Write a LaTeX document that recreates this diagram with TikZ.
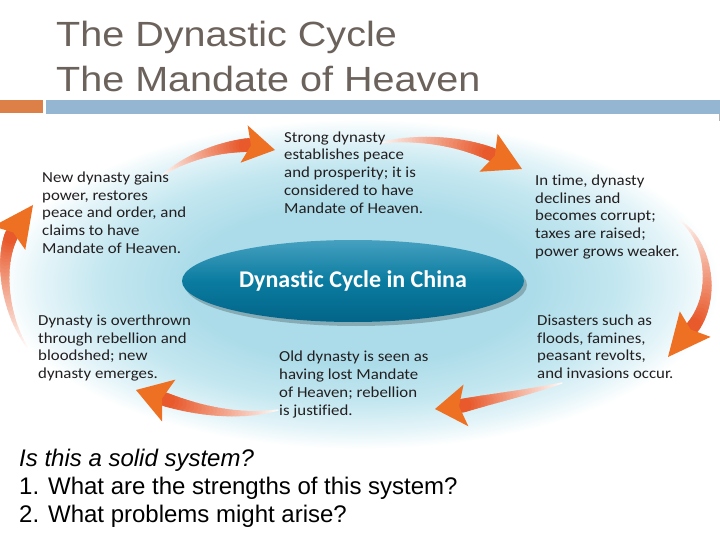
\documentclass[tikz,border=0pt]{standalone}
\usepackage{fontspec}
\setmainfont{Liberation Sans}
\newfontfamily\titlefont[FakeStretch=1.13]{Liberation Sans}
\newfontfamily\bodyfont[FakeStretch=1.1,Ligatures=NoCommon]{Carlito}
\newfontfamily\ovalfont[Ligatures=NoCommon]{Carlito}
\usetikzlibrary{calc,shapes.geometric}
\definecolor{titlegray}{RGB}{108,98,92}
\definecolor{barorange}{RGB}{221,128,71}
\definecolor{barblue}{RGB}{148,182,210}
\definecolor{glowc}{RGB}{172,220,233}
\definecolor{glowd}{RGB}{196,231,240}
\definecolor{glowe}{RGB}{230,245,249}
\definecolor{ovalmid}{RGB}{10,124,160}
\definecolor{ovaltop}{RGB}{70,160,192}
\definecolor{ovalbot}{RGB}{2,100,136}
\definecolor{arrowred}{RGB}{232,88,42}
\definecolor{arrowhd}{RGB}{238,112,34}
\definecolor{bodytext}{RGB}{35,31,32}
\pgfdeclareradialshading{glowshade}{\pgfpoint{0bp}{0bp}}{color(0bp)=(glowc); color(12bp)=(glowc); color(18bp)=(glowd); color(22.5bp)=(glowe); color(25bp)=(white); color(50bp)=(white)}

% #1 name prefix, #2 tail, #3 control 1, #4 control 2, #5 head base, #6 tip, #7 head half-width
\newcommand{\cyclearrow}[7]{%
  \path (#2) .. controls (#3) and (#4) .. (#5)
    \foreach \k in {0,...,30}{ coordinate[pos=\k/30] (#1-\k) };
  \foreach \k [evaluate=\k as \nk using int(\k+1),
               evaluate=\k as \w using 1.5+\k*0.42,
               evaluate=\k as \c using 4+\k*3.3] in {0,...,29}
    \draw[line width=\w pt, line cap=round, draw=arrowred!\c!white] (#1-\k) -- (#1-\nk);
  \coordinate (#1-back) at ($(#5)!-5pt!(#6)$);
  \coordinate (#1-notch) at ($(#5)!2pt!(#6)$);
  \fill[arrowhd] ($(#1-back)!#7!90:(#6)$) -- (#6) -- ($(#1-back)!#7!-90:(#6)$) -- (#1-notch) -- cycle;
}

\begin{document}
\begin{tikzpicture}[x=1pt,y=-1pt,
  txt/.style={font=\bodyfont\fontsize{15.3}{17.8}\selectfont, text=bodytext,
              align=left, anchor=north west, inner sep=0pt}]
\useasboundingbox (0,0) rectangle (720,540);
\fill[white] (0,0) rectangle (720,540);

% soft glow behind the cycle
\shade[shading=glowshade] (360,284) ellipse [x radius=360, y radius=165];

% header bars
\fill[barorange] (0,100) rectangle (43,113);
\fill[barblue] (46,100) rectangle (720,114);
\fill[gray!60] (718.5,114) rectangle (720,121);

% title
\node[anchor=north west, inner sep=0pt, align=left, text=titlegray,
      font=\titlefont\fontsize{35}{45}\selectfont] (title) at (56,16.7)
  {\rule{0pt}{30pt}The Dynastic Cycle\\The Mandate of Heaven};

% arrow key points
\coordinate (a1t) at (163,175); \coordinate (a1b) at (249,145); \coordinate (a1h) at (275,150);
\coordinate (a2t) at (380,143); \coordinate (a2b) at (493,155); \coordinate (a2h) at (522,169);
\coordinate (a3t) at (680,221); \coordinate (a3b) at (692,328); \coordinate (a3h) at (668,357);
\coordinate (a4t) at (562,383); \coordinate (a4b) at (461,406); \coordinate (a4h) at (435,409);
\coordinate (a5t) at (278,410); \coordinate (a5b) at (164,399); \coordinate (a5h) at (136,390);
\coordinate (a6t) at (27,347);  \coordinate (a6b) at (12,234);  \coordinate (a6h) at (33,205);

\cyclearrow{a1}{a1t}{182,160}{215,147}{a1b}{a1h}{19pt}
\cyclearrow{a2}{a2t}{410,137}{456,139}{a2b}{a2h}{21pt}
\cyclearrow{a3}{a3t}{708,240}{718,295}{a3b}{a3h}{20pt}
\cyclearrow{a4}{a4t}{530,392}{495,398}{a4b}{a4h}{21pt}
\cyclearrow{a5}{a5t}{245,417}{205,413}{a5b}{a5h}{22pt}
\cyclearrow{a6}{a6t}{4,312}{-1,262}{a6b}{a6h}{20pt}

% central oval
\fill[black, opacity=0.22] (356,285) ellipse [x radius=171, y radius=41];
\node[ellipse, minimum width=342pt, minimum height=82pt, inner sep=0pt,
      top color=ovaltop, bottom color=ovalbot, middle color=ovalmid, text=white,
      font=\ovalfont\bfseries\fontsize{24}{28}\selectfont] (oval) at (353,281)
  {Dynastic Cycle in China};

% stage texts
\node[txt] (strong) at (284,130)
  {\rule{0pt}{12pt}Strong dynasty\\establishes peace\\and prosperity; it is\\considered to have\\Mandate of Heaven.};
\node[txt] (decline) at (535,173)
  {\rule{0pt}{12pt}In time, dynasty\\declines and\\becomes corrupt;\\taxes are raised;\\power grows weaker.};
\node[txt] (disaster) at (537,313)
  {\rule{0pt}{12pt}Disasters such as\\floods, famines,\\peasant revolts,\\and invasions occur.};
\node[txt] (lost) at (279,349.5)
  {\rule{0pt}{12pt}Old dynasty is seen as\\having lost Mandate\\of Heaven; rebellion\\is justified.};
\node[txt] (overthrow) at (38,313)
  {\rule{0pt}{12pt}Dynasty is overthrown\\through rebellion and\\bloodshed; new\\dynasty emerges.};
\node[txt] (newdyn) at (42,170)
  {\rule{0pt}{12pt}New dynasty gains\\power, restores\\peace and order, and\\claims to have\\Mandate of Heaven.};

% questions
\node[anchor=north west, inner sep=0pt, align=left, text=black,
      font=\fontsize{24}{28}\selectfont] (questions) at (19,446)
  {\rule{0pt}{20pt}\textit{Is this a solid system?}\\1. What are the strengths of this system?\\2. What problems might arise?};
\end{tikzpicture}
\end{document}
